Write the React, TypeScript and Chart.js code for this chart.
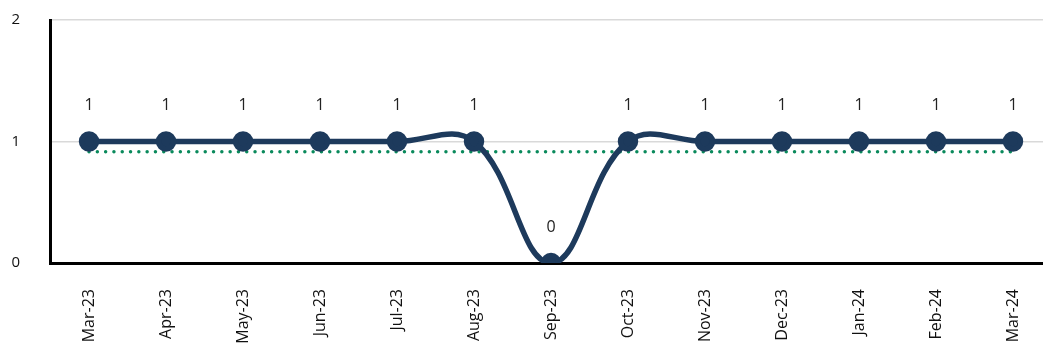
import React, { useEffect, useRef } from "react";
import { Chart, registerables } from "chart.js";

Chart.register(...registerables);

const categories = ["Mar-23", "Apr-23", "May-23", "Jun-23", "Jul-23", "Aug-23", "Sep-23", "Oct-23", "Nov-23", "Dec-23", "Jan-24", "Feb-24", "Mar-24"];
const values = [1, 1, 1, 1, 1, 1, 0, 1, 1, 1, 1, 1, 1];
const averageValue = 11 / 12;
const yTicks = [0, 1, 2];

const FONT = "'Open Sans', 'DejaVu Sans', sans-serif";

const labelPlugin = {
  id: "pointLabels",
  afterDatasetsDraw(chart: any) {
    const meta = chart.getDatasetMeta(0);
    const ctx = chart.ctx;
    ctx.save();
    ctx.font = `16px ${FONT}`;
    ctx.fillStyle = "#222";
    ctx.textAlign = "center";
    ctx.textBaseline = "middle";
    meta.data.forEach((el: any, i: number) => {
      ctx.fillText(String(values[i]), el.x, el.y - 36);
    });
    ctx.restore();
  },
};

export default function App() {
  const ref = useRef<HTMLCanvasElement>(null);
  useEffect(() => {
    const chart = new Chart(ref.current!, {
      type: "line",
      data: {
        datasets: [
          {
            data: values.map((v, i) => ({ x: i, y: v })),
            borderColor: "#1d3a5c",
            backgroundColor: "#1d3a5c",
            borderWidth: 5.5,
            pointRadius: 7.5,
            pointHoverRadius: 7.5,
            tension: 0.4,
            order: 1,
          },
          {
            data: values.map((_, i) => ({ x: i, y: averageValue })),
            borderColor: "#0a8a5c",
            borderWidth: 3.5,
            borderDash: [0, 8.3],
            borderCapStyle: "round",
            pointRadius: 0,
            tension: 0,
            order: 2,
          },
        ],
      },
      options: {
        animation: false,
        responsive: false,
        maintainAspectRatio: false,
        layout: { padding: { top: 20, right: 0, left: 0, bottom: 0 } },
        plugins: { legend: { display: false }, tooltip: { enabled: false } },
        scales: {
          x: {
            type: "linear",
            min: -0.507,
            max: 12.39,
            afterBuildTicks: (scale: any) => {
              scale.ticks = categories.map((_, i) => ({ value: i }));
            },
            afterFit: (scale: any) => {
              scale.height = 87;
              scale.paddingLeft = 0;
              scale.paddingRight = 0;
              scale.paddingTop = 0;
              scale.paddingBottom = 0;
            },
            grid: { display: false, drawTicks: false },
            border: { display: true, color: "#000", width: 3 },
            ticks: {
              autoSkip: false,
              minRotation: 90,
              maxRotation: 90,
              padding: 26,
              color: "#111",
              font: { family: FONT, size: 16 },
              callback: (v: any) => categories[v as number] ?? "",
            },
          },
          y: {
            min: 0,
            max: 2,
            afterBuildTicks: (scale: any) => {
              scale.ticks = yTicks.map((v) => ({ value: v }));
            },
            afterFit: (scale: any) => {
              scale.width = 50;
              scale.paddingTop = 0;
              scale.paddingBottom = 0;
            },
            grid: { color: "#d9d9d9", lineWidth: 1.5, drawTicks: false },
            border: { display: true, color: "#000", width: 3 },
            ticks: {
              padding: 30,
              color: "#111",
              font: { family: FONT, size: 15 },
            },
          },
        },
      },
      plugins: [labelPlugin],
    } as any);
    return () => chart.destroy();
  }, []);
  return (
    <div style={{ position: "absolute", left: 0, top: 0, width: 1043, height: 350, overflow: "hidden" }}>
      <canvas ref={ref} width={1056} height={350} style={{ display: "block" }} />
    </div>
  );
}
